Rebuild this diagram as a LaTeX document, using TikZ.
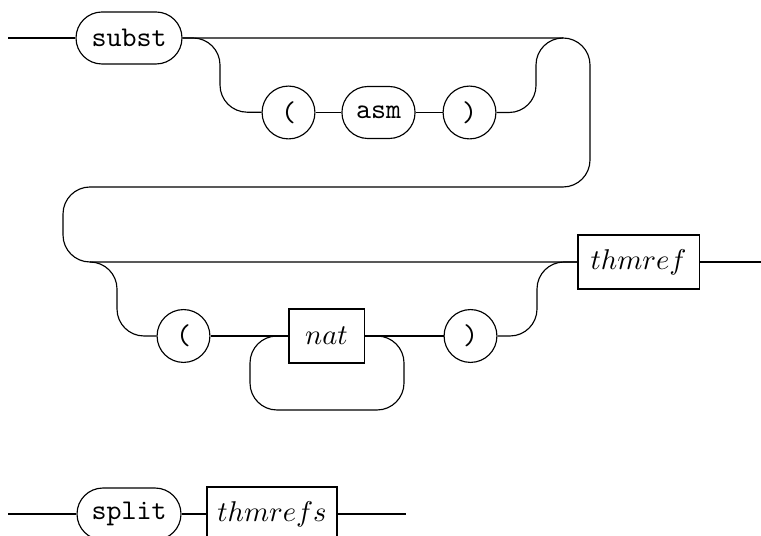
\documentclass[tikz,border=0pt]{standalone}
\usetikzlibrary{positioning}

\tikzset{
  railbox/.style={draw,inner sep=0pt},
  term/.style={railbox,rounded corners=9.1pt,minimum height=18.2pt,font=\ttfamily},
  paren/.style={railbox,circle,minimum size=18.5pt,font=\ttfamily},
  nonterm/.style={railbox,minimum height=18.9pt},
  rail/.style={rounded corners=9.45pt},
}

\begin{document}
\begin{tikzpicture}[x=.35pt,y=-.35pt]
  \useasboundingbox (0,0) rectangle (761,536);
  % subst ( asm ) thmref
  \coordinate (in1) at (8,38);
  \node[term,minimum width=37.1pt] (subst) at (129,38) {subst};
  \node[paren] (lp1) at (288.5,112.5) {(};
  \node[term,minimum width=25.6pt] (asm) at (378.5,112.5) {asm};
  \node[paren] (rp1) at (469.5,112.5) {)};
  \coordinate (split2) at (90,262);
  \node[paren] (lp2) at (183.5,336) {(};
  \node[nonterm,minimum width=26.3pt] (nat) at (326.5,336) {$nat$};
  \node[paren] (rp2) at (470.5,336) {)};
  \node[nonterm,minimum width=42.4pt] (thmref) at (638.5,262) {$thmref$};
  \coordinate (out2) at (761,262);

  \draw (in1) -- (subst);
  \draw[rail] (subst.east) -- (590,38) -- (590,187) -- (63,187) -- (63,262) -- (thmref.west);
  \draw[rail] (subst.east) -| (220,112) -- (lp1);
  \draw (lp1) -- (asm) -- (rp1);
  \draw[rail] (rp1) -| (536,38) -- (563,38);
  \draw[rail] (split2) -- (117,262) -- (117,336) -- (lp2);
  \draw (lp2) -- (nat) -- (rp2);
  \draw[rail] (nat.west) -| (250,410) -| (404,336) -- (nat.east);
  \draw[rail] (rp2) -| (537,262) -- (thmref.west);
  \draw (thmref) -- (out2);

  % split thmrefs
  \coordinate (in3) at (8,514);
  \node[term,minimum width=36.4pt] (split) at (129,514) {split};
  \node[nonterm,minimum width=45.5pt] (thmrefs) at (272,514) {$thmrefs$};
  \coordinate (out3) at (406,514);
  \draw (in3) -- (split) -- (thmrefs) -- (out3);
\end{tikzpicture}
\end{document}
